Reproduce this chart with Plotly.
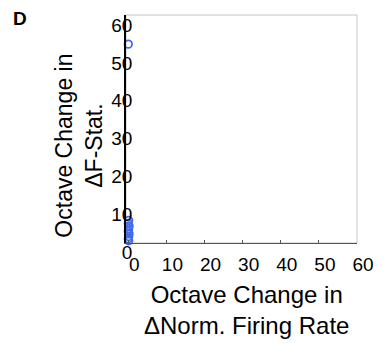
import plotly.graph_objects as go

# Data
x_norm_fr = [0.0, 0.1, 0.0, 0.2, 0.1, 0.0, 0.2, 0.1, 0.0, 0.1]
y_fstat = [52.3, 5.8, 5.0, 4.3, 3.6, 2.9, 2.2, 1.5, 0.9, 0.4]
tick_vals = [0, 10, 20, 30, 40, 50, 60]
x_title = "Octave Change in<br>ΔNorm. Firing Rate"
y_title = "Octave Change in<br>ΔF-Stat."

fig = go.Figure()
fig.add_trace(go.Scatter(
    x=x_norm_fr, y=y_fstat, mode="markers",
    marker=dict(symbol="circle-open", size=7.5, color="#4169e8", line=dict(width=1.8)),
    cliponaxis=False, showlegend=False,
))

font = "Liberation Sans, Arial, sans-serif"
fig.update_layout(
    width=377, height=342,
    margin=dict(l=118, r=28, t=7, b=107, autoexpand=False),
    paper_bgcolor="white", plot_bgcolor="white",
    font=dict(family=font, color="black"),
    shapes=[dict(type="rect", xref="paper", yref="paper", x0=0, y0=0, x1=1, y1=1,
                 line=dict(color="#c4c4c4", width=1), layer="below")],
    annotations=[
        dict(text="<b>D</b>", xref="paper", yref="paper", x=-0.5, y=1.04,
             xanchor="left", yanchor="top", showarrow=False, font=dict(size=19, family=font)),
        dict(text=x_title, xref="paper", yref="paper", x=0.5238, y=-0.296,
             xanchor="center", yanchor="middle", showarrow=False, font=dict(size=24, family=font)),
        dict(text=y_title, xref="paper", yref="paper", x=-0.205, y=0.4254, textangle=-90,
             xanchor="center", yanchor="middle", showarrow=False, font=dict(size=23, family=font)),
    ],
)
fig.update_xaxes(
    range=[-0.6, 60], tickvals=tick_vals, ticks="inside", ticklen=3, tickcolor="#555",
    showline=True, linecolor="#555", linewidth=1.2, showgrid=False, zeroline=False,
    tickfont=dict(size=19), ticklabelshift=6, ticklabelstandoff=4, ticklabeloverflow="allow",
    automargin=False,
)
fig.update_yaxes(
    range=[-0.2, 60], tickvals=tick_vals, ticks="", showline=True, linecolor="black",
    linewidth=1.5, showgrid=False, zeroline=False,
    tickfont=dict(size=19), ticklabelshift=10, ticklabelstandoff=-12, ticklabeloverflow="allow",
    automargin=False,
)
fig.write_html("out.html")
